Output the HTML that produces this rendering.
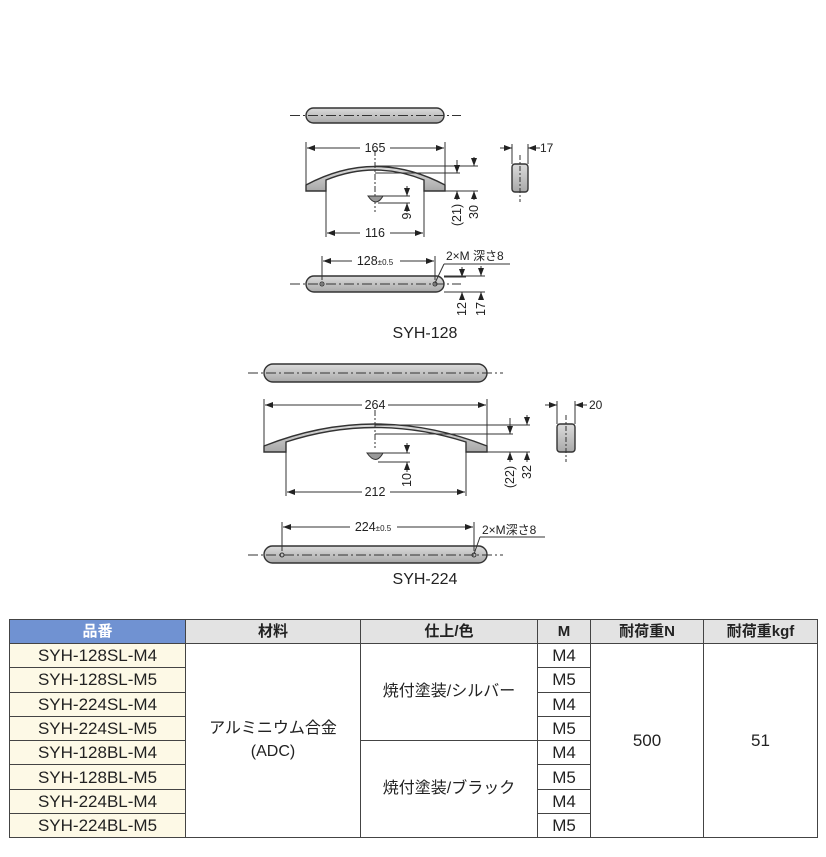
<!DOCTYPE html>
<html><head><meta charset="utf-8"><style>
body{margin:0;width:826px;height:857px;background:#fff;overflow:hidden;font-family:"Liberation Sans","Noto Sans CJK JP",sans-serif}
svg{position:absolute;left:0;top:0}
table{position:absolute;left:9px;top:619px;border-collapse:collapse;font-size:17px;color:#222}
td{border:1px solid #444;height:23.3px;padding:0;text-align:center;line-height:1}
.h td{background:#e3e3e3;font-weight:bold;font-size:15px;height:23px}
.h td.b{background:#7092d2;color:#fff}
.c{background:#fdf9e6}
.m{line-height:1.4;font-size:16px}
</style></head><body>
<svg width="826" height="610" viewBox="0 0 826 610" font-family="Liberation Sans, Noto Sans CJK JP, sans-serif" font-size="12" fill="#222">
<defs>
<linearGradient id="g" x1="0" y1="0" x2="0" y2="1"><stop offset="0" stop-color="#dcdcdc"/><stop offset="1" stop-color="#a8a8a8"/></linearGradient>
<marker id="a" markerWidth="8" markerHeight="6" refX="8" refY="3" orient="auto-start-reverse" markerUnits="userSpaceOnUse"><path d="M0,0L8,3L0,6z" fill="#222"/></marker>
</defs>
<g stroke="#333" stroke-width="1" fill="none">
<rect x="306" y="108" width="138" height="15" rx="7.5" fill="url(#g)" stroke-width="1.4"/>
<line x1="290" y1="115.5" x2="461" y2="115.5" stroke-dasharray="10,3,2,3"/>
<path d="M306,191 L306,185 Q375,148 445,185 L445,191 L424,191 L424,180 Q375,160 326,180 L326,191 Z" fill="url(#g)" stroke-width="1.4"/>
<line x1="326" y1="191" x2="326" y2="237"/><line x1="424" y1="191" x2="424" y2="237"/>
<line x1="306" y1="142" x2="306" y2="185"/><line x1="445" y1="142" x2="445" y2="185"/>
<line x1="307" y1="148" x2="360" y2="148" marker-start="url(#a)"/><line x1="390" y1="148" x2="444" y2="148" marker-end="url(#a)"/>
<line x1="327" y1="233" x2="360" y2="233" marker-start="url(#a)"/><line x1="390" y1="233" x2="423" y2="233" marker-end="url(#a)"/>
<line x1="375" y1="150" x2="375" y2="212" stroke-dasharray="6,2,2,2"/>
<path d="M368,196 L383,196 Q376,208 368,196Z" fill="#999"/>
<line x1="383" y1="196" x2="410" y2="196"/><line x1="378" y1="203" x2="410" y2="203"/>
<line x1="407" y1="186" x2="407" y2="196" marker-end="url(#a)"/><line x1="407" y1="212" x2="407" y2="203" marker-end="url(#a)"/>
<line x1="375" y1="166" x2="478" y2="166"/><line x1="375" y1="173" x2="460" y2="173"/><line x1="445" y1="191" x2="478" y2="191"/>
<line x1="457" y1="160" x2="457" y2="173" marker-end="url(#a)"/><line x1="457" y1="200" x2="457" y2="191" marker-end="url(#a)"/>
<line x1="474" y1="157" x2="474" y2="166" marker-end="url(#a)"/><line x1="474" y1="200" x2="474" y2="191" marker-end="url(#a)"/>
<rect x="512" y="164" width="16" height="28" rx="3" fill="url(#g)" stroke-width="1.4"/>
<line x1="520" y1="155" x2="520" y2="202" stroke-dasharray="5,2,2,2"/>
<line x1="512" y1="144" x2="512" y2="164"/><line x1="528" y1="144" x2="528" y2="164"/>
<line x1="500" y1="148" x2="512" y2="148" marker-end="url(#a)"/><line x1="540" y1="148" x2="528" y2="148" marker-end="url(#a)"/>
<rect x="306" y="276" width="138" height="16" rx="8" fill="url(#g)" stroke-width="1.4"/>
<line x1="290" y1="284" x2="461" y2="284" stroke-dasharray="10,3,2,3"/>
<circle cx="322" cy="284" r="2"/><circle cx="435" cy="284" r="2"/>
<line x1="322" y1="256" x2="322" y2="280"/><line x1="435" y1="256" x2="435" y2="280"/>
<line x1="323" y1="261" x2="352" y2="261" marker-start="url(#a)"/><line x1="400" y1="261" x2="434" y2="261" marker-end="url(#a)"/>
<line x1="510" y1="264" x2="444" y2="264"/><line x1="444" y1="264" x2="435" y2="283"/>
<line x1="444" y1="277" x2="466" y2="277"/><line x1="444" y1="292" x2="485" y2="292"/><line x1="444" y1="276" x2="485" y2="276"/>
<line x1="462" y1="267" x2="462" y2="277" marker-end="url(#a)"/><line x1="462" y1="300" x2="462" y2="292" marker-end="url(#a)"/>
<line x1="481" y1="266" x2="481" y2="276" marker-end="url(#a)"/><line x1="481" y1="300" x2="481" y2="292" marker-end="url(#a)"/>

<rect x="264" y="364" width="223" height="18" rx="9" fill="url(#g)" stroke-width="1.4"/>
<line x1="248" y1="373" x2="503" y2="373" stroke-dasharray="10,3,2,3"/>
<path d="M264,452 L264,446 Q375,402 487,446 L487,452 L466,452 L466,442 Q375,413 286,442 L286,452 Z" fill="url(#g)" stroke-width="1.4"/>
<line x1="286" y1="452" x2="286" y2="496"/><line x1="466" y1="452" x2="466" y2="496"/>
<line x1="264" y1="399" x2="264" y2="446"/><line x1="487" y1="399" x2="487" y2="446"/>
<line x1="265" y1="405" x2="362" y2="405" marker-start="url(#a)"/><line x1="388" y1="405" x2="486" y2="405" marker-end="url(#a)"/>
<line x1="287" y1="492" x2="362" y2="492" marker-start="url(#a)"/><line x1="390" y1="492" x2="465" y2="492" marker-end="url(#a)"/>
<line x1="375" y1="410" x2="375" y2="448" stroke-dasharray="6,2,2,2"/>
<path d="M367,453 L383,453 Q376,466 367,453Z" fill="#999"/>
<line x1="383" y1="453" x2="410" y2="453"/><line x1="378" y1="462" x2="410" y2="462"/>
<line x1="407" y1="443" x2="407" y2="453" marker-end="url(#a)"/><line x1="407" y1="472" x2="407" y2="462" marker-end="url(#a)"/>
<line x1="375" y1="425" x2="530" y2="425"/><line x1="375" y1="434" x2="513" y2="434"/><line x1="487" y1="452" x2="530" y2="452"/>
<line x1="510" y1="418" x2="510" y2="434" marker-end="url(#a)"/><line x1="510" y1="462" x2="510" y2="452" marker-end="url(#a)"/>
<line x1="527" y1="415" x2="527" y2="425" marker-end="url(#a)"/><line x1="527" y1="462" x2="527" y2="452" marker-end="url(#a)"/>
<rect x="557" y="424" width="18" height="28" rx="3" fill="url(#g)" stroke-width="1.4"/>
<line x1="566" y1="415" x2="566" y2="462" stroke-dasharray="5,2,2,2"/>
<line x1="557" y1="401" x2="557" y2="424"/><line x1="575" y1="401" x2="575" y2="424"/>
<line x1="545" y1="405" x2="557" y2="405" marker-end="url(#a)"/><line x1="587" y1="405" x2="575" y2="405" marker-end="url(#a)"/>
<rect x="264" y="546" width="223" height="17" rx="8.5" fill="url(#g)" stroke-width="1.4"/>
<line x1="248" y1="555" x2="503" y2="555" stroke-dasharray="10,3,2,3"/>
<circle cx="282" cy="555" r="2"/><circle cx="474" cy="555" r="2"/>
<line x1="282" y1="522" x2="282" y2="551"/><line x1="474" y1="522" x2="474" y2="551"/>
<line x1="283" y1="527" x2="350" y2="527" marker-start="url(#a)"/><line x1="397" y1="527" x2="473" y2="527" marker-end="url(#a)"/>
<line x1="545" y1="537" x2="480" y2="537"/><line x1="480" y1="537" x2="474" y2="554"/>
</g>
<g font-size="12.5" text-anchor="middle">
<text x="375" y="152">165</text><text x="375" y="237">116</text>
<text x="375" y="265">128<tspan font-size="8">±0.5</tspan></text>
<text x="375" y="409">264</text><text x="375" y="496">212</text>
<text x="373" y="531">224<tspan font-size="8">±0.5</tspan></text>
<text transform="translate(411,216) rotate(-90)">9</text>
<text transform="translate(461,215) rotate(-90)">(21)</text>
<text transform="translate(478,212) rotate(-90)">30</text>
<text transform="translate(466,309) rotate(-90)">12</text>
<text transform="translate(485,309) rotate(-90)">17</text>
<text transform="translate(411,480) rotate(-90)">10</text>
<text transform="translate(514,477) rotate(-90)">(22)</text>
<text transform="translate(531,472) rotate(-90)">32</text>
</g>
<text x="540" y="152">17</text><text x="589" y="409">20</text>
<text x="446" y="260">2×M 深さ8</text><text x="482" y="534">2×M深さ8</text>
<text x="425" y="338" font-size="16" text-anchor="middle">SYH-128</text>
<text x="425" y="584" font-size="16" text-anchor="middle">SYH-224</text>
</svg>
<table>
<colgroup><col style="width:176px"><col style="width:175px"><col style="width:177px"><col style="width:53px"><col style="width:113px"><col style="width:114px"></colgroup>
<tr class="h"><td class="b">品番</td><td>材料</td><td>仕上/色</td><td>M</td><td>耐荷重N</td><td>耐荷重kgf</td></tr>
<tr><td class="c">SYH-128SL-M4</td><td rowspan="8" class="m">アルミニウム合金<br>(ADC)</td><td rowspan="4" style="font-size:16px">焼付塗装/シルバー</td><td>M4</td><td rowspan="8">500</td><td rowspan="8">51</td></tr>
<tr><td class="c">SYH-128SL-M5</td><td>M5</td></tr>
<tr><td class="c">SYH-224SL-M4</td><td>M4</td></tr>
<tr><td class="c">SYH-224SL-M5</td><td>M5</td></tr>
<tr><td class="c">SYH-128BL-M4</td><td rowspan="4" style="font-size:16px">焼付塗装/ブラック</td><td>M4</td></tr>
<tr><td class="c">SYH-128BL-M5</td><td>M5</td></tr>
<tr><td class="c">SYH-224BL-M4</td><td>M4</td></tr>
<tr><td class="c">SYH-224BL-M5</td><td>M5</td></tr>
</table>
</body></html>
